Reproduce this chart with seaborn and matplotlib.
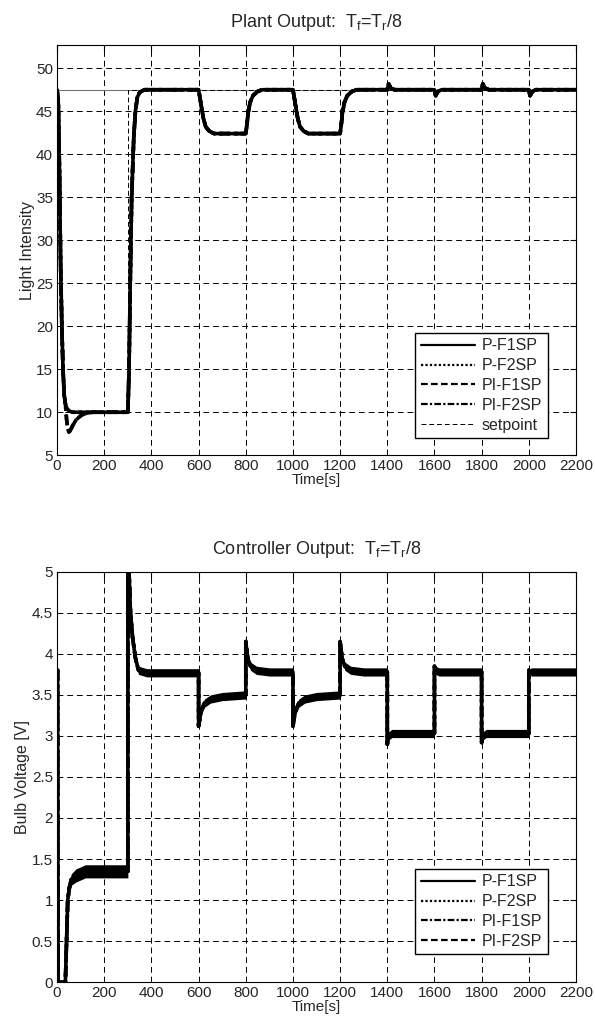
import numpy as np
import pandas as pd
import matplotlib
matplotlib.use("Agg")
import matplotlib.pyplot as plt
import seaborn as sns

# plant output (light intensity)
plant_t = [0, 5, 10, 15, 20, 25, 30, 35, 40, 45, 50, 55, 65, 80, 100, 125, 150, 300,
           305, 310, 316, 325, 332, 340, 350, 370,
           600, 606, 612, 620, 630, 645, 665, 800, 805, 810, 818, 830, 850, 870,
           1000, 1006, 1012, 1020, 1030, 1045, 1065, 1200, 1205, 1210, 1218, 1230, 1250, 1270,
           1400, 1405, 1415, 1430, 1600, 1605, 1615, 1630,
           1800, 1805, 1815, 1830, 2000, 2005, 2015, 2030, 2200]
plant_p = [47.5, 46.0, 38.0, 27.0, 20.0, 15.0, 12.0, 11.0, 10.5, 10.3, 10.2, 10.1, 10.0, 10.0, 10.0, 10.0, 10.0, 10.0,
           15.0, 25.0, 35.0, 42.0, 45.0, 46.6, 47.2, 47.5,
           47.5, 46.5, 45.5, 44.2, 43.2, 42.7, 42.4, 42.4, 43.5, 44.8, 46.0, 46.8, 47.3, 47.5,
           47.5, 46.5, 45.5, 44.2, 43.2, 42.7, 42.4, 42.4, 43.5, 44.8, 46.0, 46.8, 47.3, 47.5,
           47.5, 48.2, 47.7, 47.5, 47.5, 46.8, 47.3, 47.5,
           47.5, 48.2, 47.7, 47.5, 47.5, 46.8, 47.3, 47.5, 47.5]
plant_pi = [47.5, 46.0, 38.0, 27.0, 20.0, 15.0, 12.0, 11.0, 9.2, 8.1, 7.7, 7.8, 8.4, 9.1, 9.6, 9.9, 10.0, 10.0,
            15.0, 25.0, 35.0, 42.0, 45.0, 46.6, 47.2, 47.5,
            47.5, 46.5, 45.5, 44.2, 43.2, 42.7, 42.4, 42.4, 43.5, 44.8, 46.0, 46.8, 47.3, 47.5,
            47.5, 46.5, 45.5, 44.2, 43.2, 42.7, 42.4, 42.4, 43.5, 44.8, 46.0, 46.8, 47.3, 47.5,
            47.5, 48.2, 47.7, 47.5, 47.5, 46.8, 47.3, 47.5,
            47.5, 48.2, 47.7, 47.5, 47.5, 46.8, 47.3, 47.5, 47.5]
sp_t = [0, 300, 300, 2200]
sp_y = [10.0, 10.0, 47.5, 47.5]
sp_level = 47.5

# controller output (bulb voltage)
ctrl_t = [0, 2, 4, 35, 40, 45, 52, 60, 80, 120, 300,
          300, 305, 311, 320, 332, 345, 380, 600,
          600, 610, 625, 650, 700, 800,
          800, 808, 820, 845, 900, 1000,
          1000, 1010, 1025, 1050, 1100, 1200,
          1200, 1208, 1220, 1245, 1300, 1400,
          1400, 1405, 1420, 1600,
          1600, 1605, 1620, 1800,
          1800, 1805, 1820, 2000,
          2000, 2010, 2200]
ctrl_u = [3.8, 3.8, 0.0, 0.0, 0.5, 1.0, 1.15, 1.25, 1.3, 1.35, 1.35,
          5.3, 5.0, 4.5, 4.2, 3.95, 3.8, 3.77, 3.77,
          3.12, 3.3, 3.4, 3.45, 3.48, 3.5,
          4.15, 3.95, 3.85, 3.8, 3.78, 3.78,
          3.12, 3.3, 3.4, 3.45, 3.48, 3.5,
          4.15, 3.95, 3.85, 3.8, 3.78, 3.78,
          2.9, 3.0, 3.03, 3.03,
          3.85, 3.8, 3.78, 3.78,
          2.92, 3.0, 3.03, 3.03,
          3.8, 3.78, 3.78]
# half-width of the measurement noise band
ctrl_noise = [0.0, 0.0, 0.0, 0.0, 0.03, 0.05, 0.06, 0.07, 0.08, 0.08, 0.08,
              0.0, 0.02, 0.03, 0.04, 0.05, 0.05, 0.05, 0.05,
              0.0, 0.05, 0.05, 0.05, 0.05, 0.05,
              0.0, 0.03, 0.05, 0.05, 0.05, 0.05,
              0.0, 0.05, 0.05, 0.05, 0.05, 0.05,
              0.0, 0.03, 0.05, 0.05, 0.05, 0.05,
              0.0, 0.05, 0.05, 0.05,
              0.0, 0.05, 0.05, 0.05,
              0.0, 0.05, 0.05, 0.05,
              0.0, 0.05, 0.05]

ctrl_names = ['P-F1SP', 'P-F2SP', 'PI-F1SP', 'PI-F2SP']

sns.set_style("white")
plt.rcParams['font.family'] = ['Liberation Sans', 'DejaVu Sans']
plt.rcParams['mathtext.fontset'] = 'custom'
plt.rcParams['mathtext.rm'] = 'Liberation Sans'
plt.rcParams['mathtext.it'] = 'Liberation Sans'

plant_df = pd.concat([
    pd.DataFrame({'t': plant_t, 'y': plant_p, 'series': 'P-F1SP'}),
    pd.DataFrame({'t': plant_t, 'y': plant_p, 'series': 'P-F2SP'}),
    pd.DataFrame({'t': plant_t, 'y': plant_pi, 'series': 'PI-F1SP'}),
    pd.DataFrame({'t': plant_t, 'y': plant_pi, 'series': 'PI-F2SP'}),
])
ctrl_df = pd.concat([pd.DataFrame({'t': ctrl_t, 'y': ctrl_u, 'series': n}) for n in ctrl_names])

top_dashes = {'P-F1SP': '', 'P-F2SP': (1, 1), 'PI-F1SP': (3, 1.5), 'PI-F2SP': (3, 1, 1, 1)}
bot_dashes = {'P-F1SP': '', 'P-F2SP': (1, 1), 'PI-F1SP': (3, 1, 1, 1), 'PI-F2SP': (3, 1.5)}

fig = plt.figure(figsize=(5.95, 10.23), dpi=100)
ax1 = fig.add_axes([0.096, 0.555, 0.872, 0.401])
ax2 = fig.add_axes([0.096, 0.040, 0.872, 0.401])


def style_axes(ax):
    ax.set_xlim(0, 2200)
    ax.set_xticks(range(0, 2201, 200))
    ax.grid(True, color='k', linestyle=(0, (6, 4)), linewidth=0.7)
    ax.tick_params(direction='in', top=True, right=True, length=4, labelsize=11, color='k', pad=3)
    for s in ax.spines.values():
        s.set_color('k')
        s.set_linewidth(0.8)
    ax.set_xlabel('Time[s]', fontsize=11, labelpad=0)


# top: plant output
ax1.plot([0, 2200], [sp_level, sp_level], color='0.45', lw=0.8)
sns.lineplot(data=plant_df, x='t', y='y', style='series', dashes=top_dashes, color='k',
             lw=2.6, estimator=None, sort=False, ax=ax1)
ax1.plot(sp_t, sp_y, color='k', lw=0.7, dashes=(5, 3), label='setpoint')
style_axes(ax1)
ax1.set_ylim(5, 52.7)
ax1.set_yticks(range(5, 51, 5))
ax1.set_ylabel('Light Intensity', fontsize=11.5, labelpad=1)
ax1.set_title(r'Plant Output:  T$_\mathregular{f}$=T$_\mathregular{r}$/8', fontsize=13, pad=13)
h, l = ax1.get_legend_handles_labels()
h = h[-5:]
l = l[-5:]
for hh in h[:4]:
    hh.set_linewidth(1.6)
ax1.legend(h, l, loc='lower right', bbox_to_anchor=(0.952, 0.034), fontsize=11.5, frameon=True,
           fancybox=False, edgecolor='k', framealpha=1, handlelength=3.4, borderpad=0.35,
           labelspacing=0.3, handletextpad=0.4, borderaxespad=0.2)

# bottom: controller output
ax2.fill_between(ctrl_t, np.array(ctrl_u) - np.array(ctrl_noise), np.array(ctrl_u) + np.array(ctrl_noise),
                 color='k', lw=0)
sns.lineplot(data=ctrl_df, x='t', y='y', style='series', dashes=bot_dashes, color='k',
             lw=2.6, estimator=None, sort=False, ax=ax2)
style_axes(ax2)
ax2.set_ylim(0, 5)
ax2.set_yticks(np.arange(0, 5.01, 0.5))
ax2.set_yticklabels(['0', '0.5', '1', '1.5', '2', '2.5', '3', '3.5', '4', '4.5', '5'])
ax2.set_ylabel('Bulb Voltage [V]', fontsize=11.5, labelpad=1)
ax2.set_title(r'Controller Output:  T$_\mathregular{f}$=T$_\mathregular{r}$/8', fontsize=13, pad=13)
h, l = ax2.get_legend_handles_labels()
for hh in h:
    hh.set_linewidth(1.6)
ax2.legend(h, l, loc='lower right', bbox_to_anchor=(0.952, 0.06), fontsize=11.5, frameon=True,
           fancybox=False, edgecolor='k', framealpha=1, handlelength=3.4, borderpad=0.35,
           labelspacing=0.3, handletextpad=0.4, borderaxespad=0.2)

plt.savefig('out.png', dpi=100)
